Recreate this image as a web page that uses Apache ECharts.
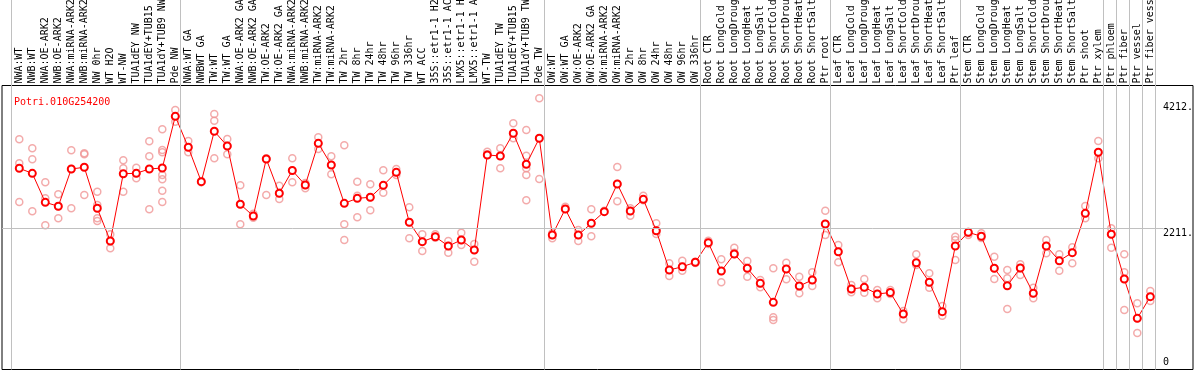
<!DOCTYPE html>
<html><head><meta charset="utf-8">
<script src="https://cdn.jsdelivr.net/npm/echarts@6/dist/echarts.min.js"></script>
<style>html,body{margin:0;padding:0;background:#fff;}#c{width:1194px;height:370px;}</style>
</head><body><div id="c"></div>
<script>
const geneId = 'Potri.010G254200';
const categories = [
 'NWA:WT','NWB:WT','NWA:OE-ARK2','NWB:OE-ARK2','NWA:miRNA-ARK2','NWB:miRNA-ARK2','NW 0hr','WT H2O','WT-NW','TUA1dEY NW','TUA1dEY+TUB15 NW','TUA1dY+TUB9 NW','Pde NW',
 'NWA:WT GA','NWBWT GA','TW:WT','TW:WT GA','NWA:OE-ARK2 GA','NWB:OE-ARK2 GA','TW:OE-ARK2','TW:OE-ARK2 GA','NWA:miRNA-ARK2 GA','NWB:miRNA-ARK2 GA','TW:miRNA-ARK2','TW:miRNA-ARK2 GA','TW 2hr','TW 8hr','TW 24hr','TW 48hr','TW 96hr','TW 336hr','WT ACC','35S::etr1-1 H2O','35S::etr1-1 ACC','LMX5::etr1-1 H2O','LMX5::etr1-1 ACC','WT-TW','TUA1dEY TW','TUA1dEY+TUB15 TW','TUA1dY+TUB9 TW','Pde TW',
 'OW:WT','OW:WT GA','OW:OE-ARK2','OW:OE-ARK2 GA','OW:miRNA-ARK2','OW:miRNA-ARK2 GA','OW 2hr','OW 8hr','OW 24hr','OW 48hr','OW 96hr','OW 336hr',
 'Root CTR','Root LongCold','Root LongDrought','Root LongHeat','Root LongSalt','Root ShortCold','Root ShortDrought','Root ShortHeat','Root ShortSalt','Ptr root',
 'Leaf CTR','Leaf LongCold','Leaf LongDrought','Leaf LongHeat','Leaf LongSalt','Leaf ShortCold','Leaf ShortDrought','Leaf ShortHeat','Leaf ShortSalt','Ptr leaf',
 'Stem CTR','Stem LongCold','Stem LongDrought','Stem LongHeat','Stem LongSalt','Stem ShortCold','Stem ShortDrought','Stem ShortHeat','Stem ShortSalt','Ptr shoot','Ptr xylem',
 'Ptr phloem','Ptr fiber','Ptr vessel','Ptr fiber vessel'
];
const groupSizes = [13, 28, 12, 10, 10, 11, 1, 1, 1, 1];
const means = [
 3167,3087,2625,2562,3156,3183,2530,2009,3081,3087,3156,3172,3995,
 3502,2954,3757,3522,2594,2407,3315,2769,3132,2901,3565,3220,2609,2689,2705,2896,3103,2307,1998,2077,1929,2025,1866,3379,3363,3725,3231,3645,
 2104,2519,2104,2291,2476,2917,2487,2673,2173,1547,1599,1670,
 1982,1531,1802,1574,1335,1032,1563,1292,1388,2280,
 1838,1244,1271,1165,1188,846,1663,1351,883,1929,
 2147,2084,1574,1297,1579,1176,1929,1695,1823,2450,3422,
 2116,1404,777,1122
];
const replicates = [
 [3629,3247,2630],[3486,3310,2482],[2944,2689,2259],[2753,2562,2371],[3454,3156,2530],[3406,3390,2742],[2794,2582,2371,2328],[2116,2009,1893],[3295,3167,2794],[3177,3087,3008],[3597,3358,2514],[3788,3459,3422,3060,2992,2810,2630],[4096,3995,3909],
 [3602,3502,3422],[2965,2944],[4032,3925,3326],[3634,3522,3390],[2896,2594,2275],[2444,2407,2380],[3326,3315,2742],[2890,2769,2678],[3326,3132,2944],[2933,2901,2848],[3661,3565,3475],[3358,3220,3072],[3533,2275,2025],[2954,2731,2386],[2912,2705,2498],[3135,2896,2778],[3156,3103,3060],[2546,2307,2052],[2116,1998,1850],[2116,2077,2061],[2009,1929,1823],[2141,2025,1945],[1961,1866,1679],[3431,3390,3379],[3486,3363,3167],[3884,3725,3645],[3777,3368,3167,3060,2657],[4282,3645,2997],
 [2132,2104,2052],[2555,2519],[2184,2104,2009],[2514,2291,2084],[2492,2476],[3188,2917,2641],[2530,2487,2412],[2731,2673,2657],[2291,2173,2120],[1654,1547,1451],[1695,1599,1536],[1679,1670,1658],
 [2014,1982,1961],[1717,1531,1351],[1902,1823,1802],[1690,1574,1440],[1388,1335,1271],[1574,793,750],[1663,1563,1399],[1440,1292,1176],[1510,1388,1292],[2492,2280,2104],
 [1945,1838,1670],[1308,1244,1192],[1404,1271,1185],[1228,1165,1096],[1228,1188,1165],[894,846,762],[1797,1663,1627],[1494,1351,1265],[973,883,819],[2077,2025,1706],
 [2136,2147,2104],[2132,2084,2057],[1759,1574,1404],[1547,1415,926],[1638,1579,1467],[1265,1176,1096],[2025,1929,1813],[1797,1695,1536],[1909,1823,1654],[2566,2450,2371],[3602,3422,3326],
 [2211,2116,1902],[1797,1510,1404,910],[1016,777,543],[1212,1122,1053]
];
const yLabelValues = [2211, 4212];
const yZeroLabel = [0];
const yGridValue = 2211;

// ---- layout constants ----
const FONT = 'DejaVu Sans Mono';
const CAT_W = 13;
const PLOT_L = 2, PLOT_R = 1193, PLOT_T = 85.5, PLOT_B = 369.5;
const LABEL_X = 1163;
const X_MIN = -1.33;
const X_MAX = X_MIN + (PLOT_R - PLOT_L) / CAT_W;
const Y_MIN = -38, Y_MAX = 4486;
const SEP_OFFSET = -0.64;

const seps = [];
let acc = 0;
seps.push(acc + SEP_OFFSET);
groupSizes.forEach(s => { acc += s; seps.push(acc + SEP_OFFSET); });

const repData = [];
replicates.forEach((arr, i) => arr.forEach(v => repData.push([i, v])));
const meanData = means.map((v, i) => [i, v]);

const hdrLeft = PLOT_L + (0 - X_MIN) * CAT_W - CAT_W / 2;
const G = {outerBoundsMode: 'none', containLabel: false};

const chart = echarts.init(document.getElementById('c'), null, {renderer: 'canvas'});
chart.setOption({
  animation: false,
  backgroundColor: '#fff',
  title: {text: geneId, left: 9, top: 92, textStyle: {fontFamily: FONT, fontSize: 10, color: '#ff0000', fontWeight: 'normal'}},
  grid: [
    Object.assign({left: PLOT_L, top: PLOT_T, width: PLOT_R - PLOT_L, height: PLOT_B - PLOT_T, show: true, borderColor: '#000', borderWidth: 1, backgroundColor: 'transparent'}, G),
    Object.assign({left: hdrLeft, top: PLOT_T, width: categories.length * CAT_W, height: PLOT_B - PLOT_T}, G),
    Object.assign({left: PLOT_L, top: 0, width: PLOT_R - PLOT_L, height: PLOT_B}, G),
    Object.assign({left: PLOT_L, top: PLOT_T, width: LABEL_X - PLOT_L, height: PLOT_B - PLOT_T}, G)
  ],
  xAxis: [
    {gridIndex: 0, type: 'value', min: X_MIN, max: X_MAX, show: false},
    {gridIndex: 1, type: 'category', data: categories, position: 'top', boundaryGap: true,
     axisLine: {show: false}, axisTick: {show: false}, splitLine: {show: false},
     axisLabel: {interval: 0, rotate: 90, margin: 2, align: 'left', verticalAlign: 'middle', hideOverlap: false,
       fontFamily: FONT, fontSize: 10, color: '#000'}},
    {gridIndex: 2, type: 'value', min: X_MIN, max: X_MAX, show: false},
    {gridIndex: 3, type: 'value', min: 0, max: 1, show: false}
  ],
  yAxis: [
    {gridIndex: 0, type: 'value', min: Y_MIN, max: Y_MAX, position: 'right',
     axisLine: {show: false}, axisTick: {show: false}, splitLine: {show: false},
     axisLabel: {inside: true, align: 'left', verticalAlign: 'top', margin: PLOT_R - LABEL_X, customValues: yLabelValues,
       formatter: v => v + '.', fontFamily: FONT, fontSize: 10, color: '#000'}},
    {gridIndex: 0, type: 'value', min: Y_MIN, max: Y_MAX, position: 'right',
     axisLine: {show: false}, axisTick: {show: false}, splitLine: {show: false},
     axisLabel: {inside: true, align: 'left', verticalAlign: 'bottom', margin: PLOT_R - LABEL_X, customValues: yZeroLabel,
       formatter: v => String(v), fontFamily: FONT, fontSize: 10, color: '#000'}},
    {gridIndex: 1, type: 'value', show: false},
    {gridIndex: 2, type: 'value', min: 0, max: 1, show: false},
    {gridIndex: 3, type: 'value', min: Y_MIN, max: Y_MAX, show: false}
  ],
  series: [
    {type: 'line', xAxisIndex: 2, yAxisIndex: 3, data: [], z: 1, silent: true,
     markLine: {silent: true, symbol: 'none', label: {show: false}, animation: false,
       lineStyle: {color: '#c0c0c0', width: 1, type: 'solid'},
       data: seps.map(v => ({xAxis: v}))}},
    {type: 'line', xAxisIndex: 3, yAxisIndex: 4, data: [], z: 1, silent: true,
     markLine: {silent: true, symbol: 'none', label: {show: false}, animation: false,
       lineStyle: {color: '#c0c0c0', width: 1, type: 'solid'},
       data: [{yAxis: yGridValue}]}},
    {type: 'scatter', xAxisIndex: 0, yAxisIndex: 0, data: repData, z: 3, symbol: 'circle', symbolSize: 7,
     itemStyle: {color: 'rgba(255,255,255,0)', borderColor: '#f09696', borderWidth: 1.5}},
    {type: 'line', xAxisIndex: 0, yAxisIndex: 0, data: meanData, z: 4, symbol: 'emptyCircle', symbolSize: 7,
     lineStyle: {color: '#ff0000', width: 1}, itemStyle: {color: '#ff0000', borderColor: '#ff0000', borderWidth: 1.5}}
  ]
});
</script></body></html>
